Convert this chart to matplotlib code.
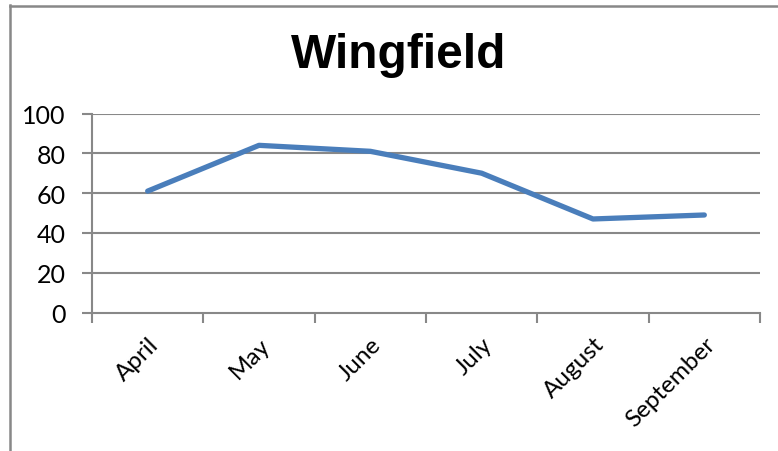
import matplotlib
matplotlib.use("Agg")
import matplotlib.pyplot as plt
from matplotlib.lines import Line2D
import numpy as np

months = ["April", "May", "June", "July", "August", "September"]
values = [61, 84, 81, 70, 47, 49]
yticks = [0, 20, 40, 60, 80, 100]

W, H = 778, 452
fig = plt.figure(figsize=(W / 100, H / 100), dpi=100)
fig.patch.set_facecolor("white")

# outer chart border (left and top only visible)
fig.add_artist(Line2D([10 / W, 10 / W], [0, 1 - 6 / H], color="#888888", lw=1.8, transform=fig.transFigure))
fig.add_artist(Line2D([10 / W, 1], [1 - 7 / H, 1 - 7 / H], color="#888888", lw=1.8, transform=fig.transFigure))

left, right, top, bottom = 92, 760, 114.5, 313.5
ax = fig.add_axes([left / W, 1 - bottom / H, (right - left) / W, (bottom - top) / H])

grid_c = "#888888"
x = np.arange(len(months))
ax.plot(x, values, color="#4A7EBB", lw=3.8, solid_capstyle="round", solid_joinstyle="round", zorder=3)

ax.set_xlim(-0.5, len(months) - 0.5)
ax.set_ylim(0, 100)
ax.set_yticks(yticks)
ax.set_yticklabels([str(v) for v in yticks], fontsize=18, family="Lato")
for v in yticks[1:]:
    ax.axhline(v, color=grid_c, lw=1.5, zorder=1)

ax.set_xticks(np.arange(len(months) + 1) - 0.5)
ax.set_xticklabels([])
ax.set_xticks(x, minor=True)
ax.set_xticklabels(months, minor=True, rotation=45, ha="right", va="top",
                   rotation_mode="anchor", fontsize=17.5, family="Lato")
ax.tick_params(axis="x", which="minor", length=0, pad=15)
ax.tick_params(axis="x", which="major", length=7, width=1.5, color=grid_c)
ax.tick_params(axis="y", length=7, width=1.5, color=grid_c, pad=12)

for s in ["top", "right"]:
    ax.spines[s].set_visible(False)
for s in ["left", "bottom"]:
    ax.spines[s].set_color(grid_c)
    ax.spines[s].set_linewidth(1.5)

fig.text(399 / W, 1 - 56 / H, "Wingfield", ha="center", va="center",
         fontsize=34.5, fontweight="bold", family="Liberation Sans")

fig.savefig("out.png", dpi=100)
